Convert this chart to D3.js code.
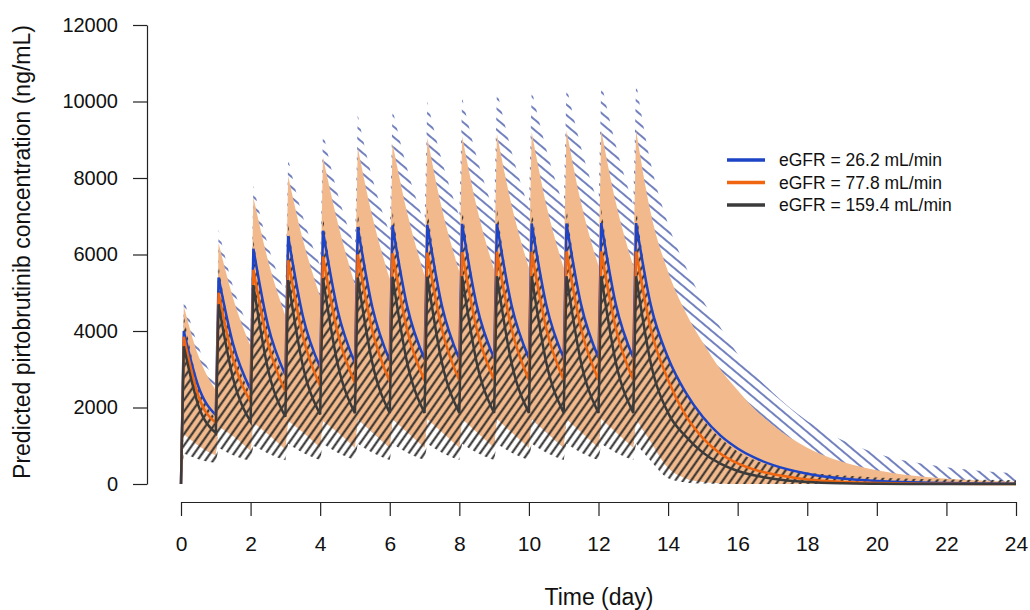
<!DOCTYPE html>
<html>
<head>
<meta charset="utf-8">
<script src="https://cdn.jsdelivr.net/npm/d3@7"></script>
<style>
  body { margin: 0; background: #fff; }
  text { font-family: "Liberation Sans", Arial, sans-serif; fill: #111; }
</style>
</head>
<body>
<svg width="1030" height="610"></svg>
<script>
// dosing days and times after the last dose (day)
var doseDays = [0, 1, 2, 3, 4, 5, 6, 7, 8, 9, 10, 11, 12, 13];
var tailDays = [14.5, 15, 15.5, 16, 16.5, 17, 18, 19, 20, 21, 22, 23, 24];
var yTicks = [0, 2000, 4000, 6000, 8000, 10000, 12000];
var xTicks = [0, 2, 4, 6, 8, 10, 12, 14, 16, 18, 20, 22, 24];
var legendLabels = ["eGFR = 26.2 mL/min", "eGFR = 77.8 mL/min", "eGFR = 159.4 mL/min"];

// per dosing interval: value just after dose (peak), mid-interval, end of interval (trough)
// eGFR 26.2 median
var blueMedPeak   = [4000, 5400, 6150, 6480, 6620, 6720, 6760, 6780, 6800, 6800, 6810, 6810, 6820, 6820];
var blueMedMid    = [2550, 3650, 4150, 4400, 4550, 4620, 4650, 4660, 4670, 4680, 4680, 4690, 4690, 4690];
var blueMedTrough = [1800, 2460, 2850, 3050, 3160, 3220, 3260, 3270, 3280, 3290, 3290, 3300, 3300, 3300];
var blueMedTail   = [2400, 1750, 1270, 930, 680, 500, 270, 145, 80, 45, 25, 14, 8];
// eGFR 77.8 median
var orangeMedPeak   = [3850, 5000, 5600, 5850, 5950, 6000, 6030, 6050, 6060, 6070, 6070, 6080, 6080, 6080];
var orangeMedMid    = [2300, 3250, 3680, 3870, 3960, 4010, 4030, 4040, 4050, 4060, 4060, 4060, 4060, 4060];
var orangeMedTrough = [1600, 2150, 2420, 2560, 2640, 2680, 2700, 2710, 2720, 2720, 2720, 2720, 2720, 2720];
var orangeMedTail   = [1800, 1200, 800, 540, 370, 260, 120, 55, 25, 12, 5, 2, 0];
// eGFR 159.4 median
var grayMedPeak   = [3600, 4700, 5200, 5330, 5380, 5400, 5420, 5420, 5430, 5430, 5430, 5430, 5430, 5430];
var grayMedMid    = [2050, 2750, 3000, 3100, 3150, 3160, 3170, 3170, 3170, 3170, 3170, 3170, 3170, 3170];
var grayMedTrough = [1330, 1630, 1760, 1820, 1850, 1860, 1860, 1860, 1860, 1860, 1860, 1860, 1860, 1860];
var grayMedTail   = [1250, 820, 530, 340, 220, 140, 55, 20, 8, 3, 0, 0, 0];

// eGFR 26.2 upper bound (hatched blue)
var blueUpPeak   = [4850, 6650, 7800, 8500, 9200, 9650, 9800, 10000, 10100, 10300, 10300, 10400, 10500, 10500];
var blueUpMid    = [3600, 5150, 6250, 7000, 7600, 8000, 8250, 8450, 8550, 8700, 8750, 8800, 8850, 8400];
var blueUpTrough = [2650, 4000, 5000, 5700, 6200, 6550, 6800, 7000, 7100, 7200, 7250, 7300, 7300, 6800];
var blueUpTail   = [5700, 4800, 4100, 3400, 2850, 2400, 1650, 1150, 800, 580, 440, 340, 280];
// eGFR 77.8 band (filled)
var orangeUpPeak   = [4650, 6300, 7500, 8050, 8550, 8800, 8900, 9050, 9100, 9150, 9200, 9250, 9250, 9250];
var orangeUpMid    = [3350, 4850, 5850, 6400, 6850, 7000, 7100, 7200, 7250, 7300, 7300, 7350, 7350, 7100];
var orangeUpTrough = [2450, 3600, 4400, 4900, 5200, 5350, 5450, 5550, 5600, 5650, 5650, 5700, 5700, 5550];
var orangeUpTail   = [4500, 3700, 3000, 2450, 1950, 1550, 950, 580, 360, 220, 140, 90, 60];
var orangeLoPeak   = [1300, 1500, 1600, 1650, 1650, 1700, 1700, 1700, 1700, 1700, 1700, 1700, 1700, 1700];
var orangeLoMid    = [1000, 1250, 1300, 1350, 1350, 1350, 1350, 1350, 1350, 1350, 1350, 1350, 1350, 1100];
var orangeLoTrough = [750, 870, 900, 950, 950, 950, 950, 950, 950, 950, 950, 950, 950, 420];
var orangeLoTail   = [150, 50, 15, 0, 0, 0, 0, 0, 0, 0, 0, 0, 0];
// eGFR 159.4 band (hatched grey)
var grayUpPeak   = [4400, 5700, 6400, 6800, 7000, 7100, 7150, 7200, 7200, 7200, 7200, 7200, 7200, 7200];
var grayUpMid    = [2600, 3600, 4100, 4400, 4550, 4650, 4700, 4700, 4720, 4720, 4720, 4720, 4720, 4720];
var grayUpTrough = [1700, 2350, 2750, 3000, 3150, 3230, 3270, 3300, 3300, 3300, 3300, 3300, 3300, 3350];
var grayUpTail   = [2400, 1700, 1200, 850, 620, 470, 300, 220, 170, 140, 120, 110, 100];
var grayLoPeak   = [800, 950, 1000, 1050, 1050, 1050, 1050, 1050, 1050, 1050, 1050, 1050, 1050, 1050];
var grayLoMid    = [650, 750, 800, 820, 820, 820, 820, 820, 820, 820, 820, 820, 820, 600];
var grayLoTrough = [550, 600, 620, 630, 630, 630, 630, 630, 630, 630, 630, 630, 630, 150];
var grayLoTail   = [40, 10, 0, 0, 0, 0, 0, 0, 0, 0, 0, 0, 0];

var peakOffset = 0.08, midOffset = 0.5;

var svg = d3.select("svg");

var x = d3.scaleLinear().domain([0, 24]).range([181, 1016]),
    y = d3.scaleLinear().domain([0, 12000]).range([484, 25]);

var line = d3.line()
    .x(function(d) { return x(d[0]); })
    .y(function(d) { return y(d[1]); })
    .curve(d3.curveMonotoneX);

// one decay segment per dosing interval, the last one runs into the washout tail
function segments(peak, mid, trough, tail) {
    return doseDays.map(function(d, i) {
        var seg = [[d + peakOffset, peak[i]], [d + midOffset, mid[i]], [d + 1, trough[i]]];
        if (i === doseDays.length - 1) {
            tail.forEach(function(v, j) { seg.push([tailDays[j], v]); });
        }
        return seg;
    });
}

function forwardPath(segs) {
    var p = "M" + x(0) + "," + y(0);
    segs.forEach(function(s) { p += line(s).replace(/^M/, "L"); });
    return p;
}

function bandPath(up, lo) {
    var p = forwardPath(up);
    lo.slice().reverse().forEach(function(s) {
        p += line(s.slice().reverse()).replace(/^M/, "L");
    });
    return p + "L" + x(0) + "," + y(0) + "Z";
}

var blueMed = segments(blueMedPeak, blueMedMid, blueMedTrough, blueMedTail),
    orangeMed = segments(orangeMedPeak, orangeMedMid, orangeMedTrough, orangeMedTail),
    grayMed = segments(grayMedPeak, grayMedMid, grayMedTrough, grayMedTail),
    blueUp = segments(blueUpPeak, blueUpMid, blueUpTrough, blueUpTail),
    orangeUp = segments(orangeUpPeak, orangeUpMid, orangeUpTrough, orangeUpTail),
    orangeLo = segments(orangeLoPeak, orangeLoMid, orangeLoTrough, orangeLoTail),
    grayUp = segments(grayUpPeak, grayUpMid, grayUpTrough, grayUpTail),
    grayLo = segments(grayLoPeak, grayLoMid, grayLoTrough, grayLoTail);

// hatch patterns
var defs = svg.append("defs");
defs.append("pattern")
    .attr("id", "hatchBlue")
    .attr("patternUnits", "userSpaceOnUse")
    .attr("width", 8).attr("height", 8)
    .attr("patternTransform", "rotate(-50)")
    .append("line")
    .attr("x1", 4).attr("y1", 0).attr("x2", 4).attr("y2", 8)
    .attr("stroke", "#4458a8").attr("stroke-width", 1.5);
defs.append("pattern")
    .attr("id", "hatchGray")
    .attr("patternUnits", "userSpaceOnUse")
    .attr("width", 6.5).attr("height", 6.5)
    .attr("patternTransform", "rotate(35)")
    .append("line")
    .attr("x1", 3.25).attr("y1", 0).attr("x2", 3.25).attr("y2", 6.5)
    .attr("stroke", "#2a2a2a").attr("stroke-width", 2);

// bands: blue hatch below the orange fill, grey hatch above it
svg.append("path").attr("d", bandPath(blueUp, orangeLo)).attr("fill", "url(#hatchBlue)");
svg.append("path").attr("d", bandPath(orangeUp, orangeLo)).attr("fill", "#f2ba8c");
svg.append("path").attr("d", bandPath(grayUp, grayLo)).attr("fill", "url(#hatchGray)");

// median lines
svg.append("path").attr("d", forwardPath(blueMed))
    .attr("fill", "none").attr("stroke", "#1d44c6").attr("stroke-width", 2.5);
svg.append("path").attr("d", forwardPath(orangeMed))
    .attr("fill", "none").attr("stroke", "#f0650f").attr("stroke-width", 2.5);
svg.append("path").attr("d", forwardPath(grayMed))
    .attr("fill", "none").attr("stroke", "#3b3b3b").attr("stroke-width", 2.5);

// axes
var yAxis = svg.append("g")
    .attr("transform", "translate(147,0)")
    .call(d3.axisLeft(y).tickValues(yTicks).tickFormat(d3.format("d")).tickSize(14).tickSizeOuter(0).tickPadding(15));
var xAxis = svg.append("g")
    .attr("transform", "translate(0,502)")
    .call(d3.axisBottom(x).tickValues(xTicks).tickSize(14).tickSizeOuter(0).tickPadding(20));
[yAxis, xAxis].forEach(function(a) {
    a.selectAll("path, line").attr("stroke", "#222").attr("stroke-width", 1.2);
    a.selectAll("text").style("font-size", "20px").attr("fill", "#111");
});
xAxis.selectAll("text").style("font-size", "21px");

svg.append("text")
    .attr("transform", "translate(30,252) rotate(-90)")
    .attr("text-anchor", "middle")
    .style("font-size", "23px")
    .text("Predicted pirtobrutinib concentration (ng/mL)");

svg.append("text")
    .attr("x", 599).attr("y", 605)
    .attr("text-anchor", "middle")
    .style("font-size", "23px")
    .text("Time (day)");

// legend
var legendColors = ["#1d44c6", "#f0650f", "#3b3b3b"];
var legend = svg.append("g");
legendLabels.forEach(function(label, i) {
    var ly = 160 + i * 22.5;
    legend.append("line")
        .attr("x1", 727).attr("x2", 765).attr("y1", ly).attr("y2", ly)
        .attr("stroke", legendColors[i]).attr("stroke-width", 3.5);
    legend.append("text")
        .attr("x", 779).attr("y", ly + 6)
        .style("font-size", "17.5px")
        .text(label);
});
</script>
</body>
</html>
